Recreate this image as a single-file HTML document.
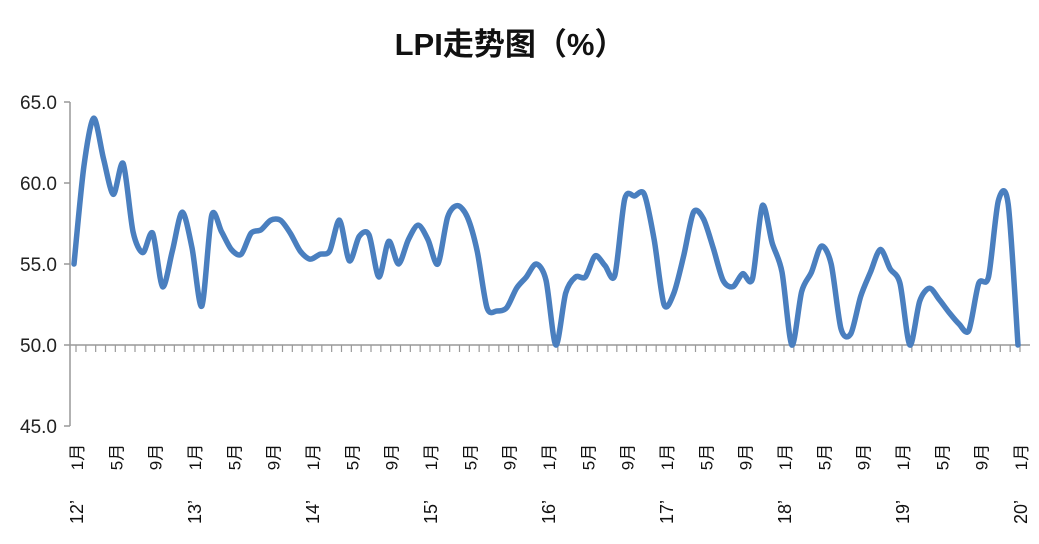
<!DOCTYPE html>
<html><head><meta charset="utf-8"><style>
body{margin:0;background:#fff}
svg{display:block;font-family:"Liberation Sans","Noto Sans CJK SC",sans-serif}
</style></head><body>
<svg id="c" width="1039" height="544">
<text x="510" y="55" text-anchor="middle" font-size="31" font-weight="bold" fill="#111">LPI走势图（%）</text>
<g id="axes"></g>
<path id="line" fill="none" stroke="#4a7fbf" stroke-width="5.5" stroke-linejoin="round" stroke-linecap="round"></path>
</svg>
<script>
const yTicks=[45,50,55,60,65];
const years=["12’","13’","14’","15’","16’","17’","18’","19’","20’"];
const values=[
55.0,61.0,64.0,61.5,59.3,61.2,57.0,55.7,56.9,53.6,55.8,58.2,
56.0,52.4,58.0,57.0,55.9,55.6,56.9,57.1,57.7,57.7,56.9,55.8,
55.3,55.6,55.8,57.7,55.2,56.7,56.8,54.2,56.4,55.0,56.5,57.4,
56.5,55.0,57.9,58.6,57.9,55.8,52.3,52.1,52.3,53.5,54.2,55.0,
54.0,50.0,53.2,54.2,54.2,55.5,54.9,54.3,59.0,59.2,59.3,56.5,
52.5,53.2,55.5,58.2,57.8,56.0,54.0,53.6,54.4,54.1,58.6,56.3,
54.5,50.0,53.3,54.5,56.1,55.0,51.0,50.7,53.0,54.5,55.9,54.7,
53.8,50.0,52.7,53.5,52.8,52.0,51.3,50.9,53.8,54.2,58.9,58.7,
50.0];
const NS="http://www.w3.org/2000/svg";
const ax=document.getElementById('axes');
const X=i=>74+i*(1018-74)/96;
const Y=v=>345-(v-50)*16.2;
function mk(t,a,txt){const e=document.createElementNS(NS,t);for(const k in a)e.setAttribute(k,a[k]);if(txt!=null)e.textContent=txt;ax.appendChild(e);return e;}
let e=mk('line',{x1:70,y1:Y(65),x2:70,y2:Y(45),stroke:'#999','stroke-width':1.5});


e=mk('line',{x1:70,y1:345,x2:1030,y2:345,stroke:'#999','stroke-width':1.5});


yTicks.forEach(v=>{
 mk('line',{x1:64,y1:Y(v),x2:70,y2:Y(v),stroke:'#999','stroke-width':1.5});
 const t=mk('text',{x:57,y:Y(v)+7,'text-anchor':'end','font-size':19,fill:'#222'},v.toFixed(1));
 
 
});
for(let i=0;i<values.length;i++){
 mk('line',{x1:X(i)+2,y1:345,x2:X(i)+2,y2:352,stroke:'#999','stroke-width':1.2});
 if(i%4===0){
  const m=(i%12)+1,x=X(i)+9;
  const t=mk('text',{x:0,y:0,transform:`translate(${x},457) rotate(-90)`,'text-anchor':'middle','font-size':17,fill:'#111'},m+'月');
  
  
 }
 if(i%12===0){
  const x=X(i)+9;
  const t=mk('text',{x:0,y:0,transform:`translate(${x},512) rotate(-90)`,'text-anchor':'middle','font-size':18,fill:'#111'},years[i/12]);
  
  
 }
}
const p=values.map((v,i)=>[X(i),Y(Math.max(v,49.8))]);
let d=`M${p[0][0]},${p[0][1]}`;
for(let i=0;i<p.length-1;i++){
 const p0=p[i-1]||p[i],p1=p[i],p2=p[i+1],p3=p[i+2]||p2,k=1/7;
 d+=` C${p1[0]+(p2[0]-p0[0])*k},${p1[1]+(p2[1]-p0[1])*k} ${p2[0]-(p3[0]-p1[0])*k},${p2[1]-(p3[1]-p1[1])*k} ${p2[0]},${p2[1]}`;
}
document.getElementById('line').setAttribute('d',d);
</script>
</body></html>
